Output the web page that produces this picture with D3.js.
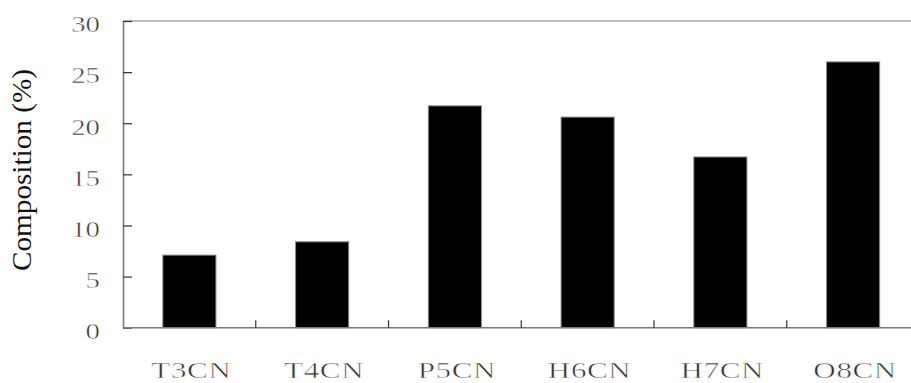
<!DOCTYPE html>
<html>
<head>
<meta charset="utf-8">
<script src="https://cdn.jsdelivr.net/npm/d3@7"></script>
<style>
  html, body { margin: 0; padding: 0; background: #fff; overflow: hidden; }
  svg { display: block; }
</style>
</head>
<body>
<svg id="chart" width="911" height="383"></svg>
<script>
const categories = ["T3CN", "T4CN", "P5CN", "H6CN", "H7CN", "O8CN"];
const values = [7.1, 8.4, 21.7, 20.6, 16.7, 26.0];
const yTicks = [0, 5, 10, 15, 20, 25, 30];
const yLabel = "Composition (%)";

(function () {
const svg = d3.select("#chart");
const pL = 123, pR = 919.5, pT = 21, pB = 327.7;
const sx = 1.2;    // horizontal glyph stretch of y tick text
const sxX = 1.32;  // horizontal glyph stretch of x labels
const thin = sel => sel.attr("stroke", "#fff").attr("stroke-width", 0.5)
  .style("paint-order", "normal");

const x = d3.scaleBand().domain(categories).range([pL, pR])
  .paddingInner(0.6).paddingOuter(0.3);
const y = d3.scaleLinear().domain([0, 30]).range([pB, pT]);

// plot frame top border
svg.append("line")
  .attr("x1", pL).attr("x2", pR).attr("y1", pT).attr("y2", pT)
  .attr("stroke", "#a8a8a8").attr("stroke-width", 1.5);

// bars
svg.append("g").selectAll("rect").data(values).join("rect")
  .attr("x", (d, i) => x(categories[i]))
  .attr("y", d => y(d))
  .attr("width", x.bandwidth())
  .attr("height", d => y(0) - y(d))
  .attr("fill", "#000")
  .attr("stroke", "#8a8a8a")
  .attr("stroke-width", 1);

// y axis
const yAxis = svg.append("g")
  .attr("transform", `translate(${pL},0)`)
  .call(d3.axisLeft(y).tickValues(yTicks).tickSize(-9).tickPadding(23).tickSizeOuter(0));
yAxis.select(".domain").attr("stroke", "#7a7a7a").attr("stroke-width", 1.6);
yAxis.selectAll(".tick line").attr("stroke", "#333").attr("stroke-width", 1.2);
yAxis.selectAll(".tick text")
  .attr("font-family", "'Liberation Serif', 'Times New Roman', serif")
  .attr("font-size", 24)
  .attr("fill", "#333")
  .attr("x", -23 / sx)
  .attr("dy", "0.45em")
  .attr("transform", `scale(${sx},1)`)
  .call(thin);

// x axis: ticks at category boundaries, pointing inward
const step = x.step();
const bounds = d3.range(1, categories.length).map(i => x.range()[0] + i * step);
const xAxisG = svg.append("g").attr("transform", `translate(0,${pB})`);
xAxisG.append("line")
  .attr("x1", pL).attr("x2", pR).attr("y1", 0).attr("y2", 0)
  .attr("stroke", "#7a7a7a").attr("stroke-width", 1.6);
xAxisG.selectAll("line.tk").data(bounds).join("line")
  .attr("class", "tk")
  .attr("x1", d => d).attr("x2", d => d)
  .attr("y1", 0).attr("y2", -7.5)
  .attr("stroke", "#333").attr("stroke-width", 1.2);

// x labels
svg.append("g").selectAll("g").data(categories).join("g")
  .attr("transform", d => `translate(${x(d) + x.bandwidth() / 2 + 2},378) scale(${sxX},1)`)
  .append("text")
  .attr("text-anchor", "middle")
  .attr("font-family", "'Liberation Serif', 'Times New Roman', serif")
  .attr("font-size", 23.5)
  .attr("letter-spacing", 0.5)
  .attr("fill", "#333")
  .text(d => d)
  .call(thin);

// y label
svg.append("text")
  .attr("transform", `translate(31,170) rotate(-90)`)
  .attr("text-anchor", "middle")
  .attr("font-family", "'Liberation Serif', 'Times New Roman', serif")
  .attr("font-size", 28)
  .attr("textLength", 202)
  .attr("lengthAdjust", "spacingAndGlyphs")
  .attr("fill", "#111")
  .text(yLabel);
})();
</script>
</body>
</html>
